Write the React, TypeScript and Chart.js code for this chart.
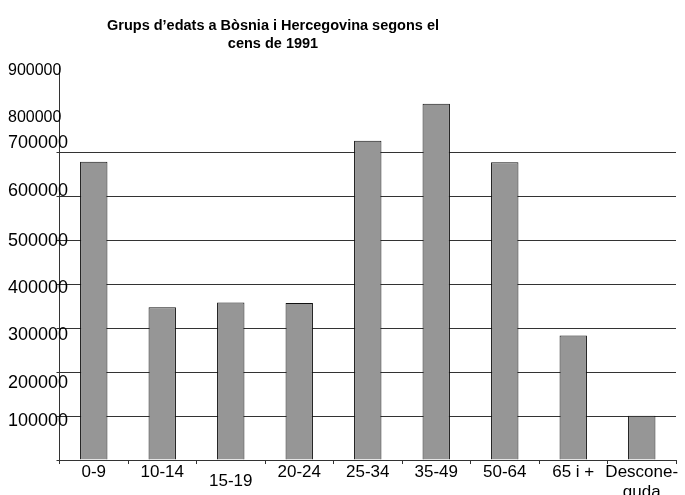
import React, { useEffect, useRef } from 'react';
import { Chart, registerables } from 'chart.js';

Chart.register(...registerables);

const titleLines = ['Grups d’edats a Bòsnia i Hercegovina segons el', 'cens de 1991'];
const categories: (string | string[])[] = ['0-9', '10-14', '15-19', '20-24', '25-34', '35-49', '50-64', '65 i +', ['Descone-', 'guda']];
const population = [680000, 348000, 359000, 358000, 728000, 812000, 679000, 284000, 101000];
const yMin = 0;
const yMax = 900000;
const yStep = 100000;
const gridMax = 700000;

// vertical nudge (px) of each y tick label relative to its grid line, as in the original
const yLabelNudge: Record<number, number> = {
  900000: 5,
  800000: 8,
  700000: -10,
  600000: -6,
  500000: -1,
  400000: 3,
  300000: 7,
  200000: 11,
  100000: 5,
};

const FAMILY = '"Liberation Sans", Arial, sans-serif';

const titleShift = {
  id: 'titleShift',
  afterLayout(chart: any) {
    const t = chart.titleBlock;
    if (t) {
      t.left = 8;
      t.right = 538;
      t.width = 530;
    }
  },
};

export default function App() {
  const ref = useRef<HTMLCanvasElement | null>(null);
  useEffect(() => {
    if (!ref.current) return;
    const chart = new Chart(ref.current, {
      type: 'bar',
      data: {
        labels: categories as any,
        datasets: [
          {
            data: population,
            backgroundColor: '#969696',
            borderColor: '#111',
            borderWidth: 1,
            barPercentage: 0.4,
            categoryPercentage: 1,
          },
        ],
      },
      options: {
        responsive: false,
        maintainAspectRatio: false,
        animation: false,
        layout: { padding: { left: 8, right: 9, top: 0, bottom: 0 } },
        plugins: {
          legend: { display: false },
          tooltip: { enabled: false },
          title: {
            display: true,
            text: titleLines,
            color: '#000',
            font: { family: FAMILY, size: 14.5, weight: 'bold', lineHeight: 1.25 },
            padding: { top: 17, bottom: 12 },
          },
        },
        scales: {
          x: {
            offset: true,
            grid: {
              offset: true,
              drawOnChartArea: false,
              drawTicks: true,
              tickLength: 4,
              color: '#333',
            },
            border: { display: true, color: '#333', width: 1 },
            ticks: {
              color: '#000',
              maxRotation: 0,
              autoSkip: false,
              padding: -2,
              font: (ctx: any) => ({
                family: FAMILY,
                size: 17,
                lineHeight: ctx && ctx.index === 2 ? 2.235 : 1.176,
              }),
            },
          },
          y: {
            min: yMin,
            max: yMax,
            afterFit: (scale: any) => {
              scale.width = 51.5;
            },
            grid: {
              color: (ctx: any) => (ctx.tick && ctx.tick.value > gridMax ? 'rgba(0,0,0,0)' : '#333'),
              tickLength: 3,
              lineWidth: 1,
            },
            border: { display: true, color: '#333', width: 1 },
            ticks: {
              stepSize: yStep,
              autoSkip: false,
              color: '#000',
              mirror: true,
              crossAlign: 'near',
              padding: -51.5,
              callback: (v: any) => {
                const n = Number(v);
                if (n === 0) return '';
                const off = yLabelNudge[n] || 0;
                if (Math.abs(off) < 2) return String(n);
                return off < 0 ? [String(n), ''] : ['', String(n)];
              },
              font: (ctx: any) => {
                const val = ctx && ctx.tick ? ctx.tick.value : 0;
                const off = yLabelNudge[val] || 0;
                return {
                  family: FAMILY,
                  size: val >= 800000 ? 16 : 18,
                  lineHeight: Math.abs(off) < 2 ? 1.2 : 2 * Math.abs(off) + 'px',
                };
              },
            },
          },
        },
      },
      plugins: [titleShift],
    });
    return () => chart.destroy();
  }, []);
  return (
    <div style={{ position: 'absolute', left: 0, top: 0, width: 685, height: 495, overflow: 'hidden', background: '#fff' }}>
      <canvas ref={ref} width={685} height={500} style={{ display: 'block' }} />
    </div>
  );
}
